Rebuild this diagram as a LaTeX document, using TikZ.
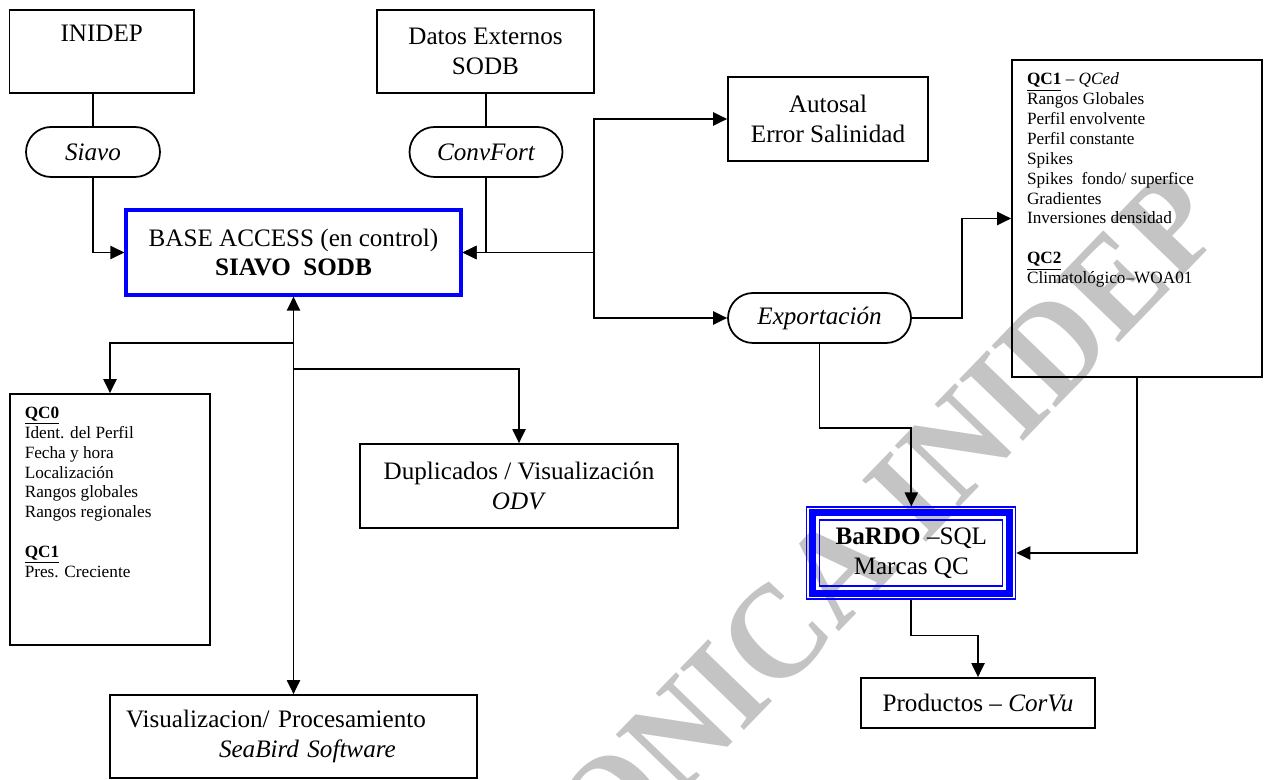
\documentclass[tikz,border=0pt]{standalone}
\usepackage{fontspec}
\setmainfont{Liberation Serif}
\usepackage{tikz}
\usetikzlibrary{shapes,arrows.meta}
\newcommand{\letragrande}{\fontsize{14.3pt}{17pt}\selectfont}
\newcommand{\letrachica}{\fontsize{9.8pt}{11.3pt}\selectfont}

\begin{document}
\begin{tikzpicture}[x=0.02cm,y=-0.02cm,line width=1pt]
		\tikzstyle{caja}=[draw,rectangle,align=center,font=\letragrande,inner sep=0pt]
		\tikzstyle{cajaazul}=[caja,draw=blue,line width=1.8pt]
		\tikzstyle{proceso}=[draw,rounded rectangle,font=\letragrande\itshape,minimum height=1cm,inner sep=0pt]
		\tikzstyle{lista}=[anchor=north west,align=left,font=\letrachica,inner xsep=0.3cm,inner ysep=0.26cm]
		\tikzstyle{flecha}=[-{Triangle[length=8pt,width=7.5pt]}]
		\tikzstyle{flechas}=[{Triangle[length=8pt,width=7.5pt]}-{Triangle[length=8pt,width=7.5pt]}]
		\tikzstyle{marca}=[rotate=46,yscale=1.08,text=black!23,font=\fontsize{71.5pt}{72pt}\selectfont\bfseries,inner sep=0pt]
		\useasboundingbox (0,0) rectangle (1267,780);
		\begin{scope}
			\clip (0,0) rectangle (1267,780);
			\node[marca] (marca) at (888,518) {ONICA INIDEP};
		\end{scope}
		\node[caja,minimum width=3.69cm,minimum height=1.66cm] (inidep) at (101.75,51.5) {INIDEP\\[4pt]\mbox{}};
		\node[proceso,minimum width=2.68cm] (siavo) at (93,152) {Siavo};
		\node[caja,minimum width=4.34cm,minimum height=1.66cm] (datos) at (485.5,51.5) {Datos Externos\\SODB};
		\node[proceso,minimum width=3.06cm] (convfort) at (486,152) {ConvFort};
		\node[cajaazul,minimum width=6.7cm,minimum height=1.7cm] (base) at (293.5,252.5) {BASE ACCESS (en control)\\\textbf{SIAVO\ \ SODB}};
		\node[caja,minimum width=4cm,minimum height=1.68cm] (autosal) at (828,119) {Autosal\\Error Salinidad};
		\node[proceso,minimum width=3.66cm] (export) at (819.5,318) {Exportación};
		\node[caja,minimum width=5cm,minimum height=6.34cm,label={[lista]north west:{\underline{\textbf{QC1}} -- \textit{QCed}\\Rangos Globales\\Perfil envolvente\\Perfil constante\\Spikes\\Spikes\ \ fondo/ superfice\\Gradientes\\Inversiones densidad\\[11.3pt]\underline{\textbf{QC2}}\\Climatológico--WOA01}}] (qcuno) at (1137,218.5) {};
		\node[caja,minimum width=4.01cm,minimum height=5.02cm,label={[lista]north west:{\underline{\textbf{QC0}}\\Ident. del Perfil\\Fecha y hora\\Localización\\Rangos globales\\Rangos regionales\\[11.3pt]\underline{\textbf{QC1}}\\Pres. Creciente}}] (qccero) at (110,519.5) {};
		\node[caja,minimum width=6.36cm,minimum height=1.68cm] (duplic) at (519,486) {Duplicados / Visualización\\\textit{ODV}};
		\node[caja,minimum width=7.34cm,minimum height=1.66cm,text width=6.7cm,align=left,inner xsep=0.32cm] (visual) at (293.5,736.5) {Visualizacion/ Procesamiento\\\hspace*{1.86cm}\textit{SeaBird Software}};
		\node[caja,draw=blue,line width=0.6pt,minimum width=4.18cm,minimum height=1.84cm] (bardo) at (911.3,553) {\textbf{BaRDO} --SQL\\Marcas QC};
		\draw[blue,line width=4pt] ([shift={(6.5,6.5)}]bardo.north west) rectangle ([shift={(-6.5,-6.5)}]bardo.south east);
		\draw[blue,line width=0.6pt] ([shift={(13.5,13.5)}]bardo.north west) rectangle ([shift={(-13.5,-13.5)}]bardo.south east);
		\node[caja,minimum width=4.68cm,minimum height=1cm] (productos) at (978,703) {Productos -- \textit{CorVu}};
		\coordinate (tronco) at (594,252.5);
		\coordinate (rama1) at (293.5,343);
		\coordinate (rama2) at (293.5,369);

		\draw (siavo.north) -- (siavo.north |- inidep.south);
		\draw[flecha] (siavo.south) |- (base.west);
		\draw (convfort.north |- datos.south) -- (convfort.north);
		\draw[flecha] (convfort.south) |- (base.east);
		\draw[flecha] (tronco) -- (base.east);
		\draw[flecha] (tronco) |- (autosal.west);
		\draw[flecha] (tronco) |- (export.west);
		\draw[flecha] (export.east) -- ++(50,0) |- (qcuno.west);
		\draw[flecha] (export.south) -- ++(0,84) -| (bardo.north);
		\draw[flecha] (qcuno.south) |- (bardo.east);
		\draw[flecha] (bardo.south) -- ++(0,36) -| (productos.north);
		\draw[flechas] (base.south) -- (visual.north);
		\draw[flecha] (rama1) -| (qccero.north);
		\draw[flecha] (rama2) -| (duplic.north);

	\end{tikzpicture}
\end{document}
